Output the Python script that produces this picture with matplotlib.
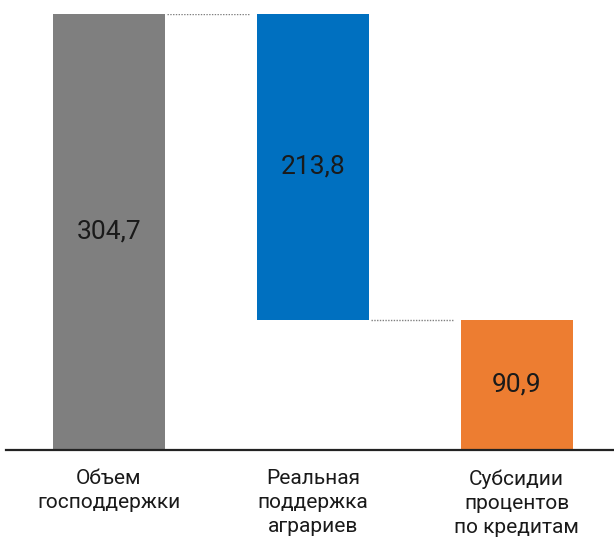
import matplotlib.pyplot as plt

# данные
categories = ['Объем\nгосподдержки', 'Реальная\nподдержка\nаграриев', 'Субсидии\nпроцентов\nпо кредитам']
values = [304.7, 213.8, 90.9]
colors = ['#7f7f7f', '#0070c0', '#ed7d31']

# основание для "водопада"
bottoms = [0, values[0] - values[1], 0]

plt.rcParams['font.family'] = ['Roboto', 'DejaVu Sans']

fig = plt.figure(figsize=(6.14, 5.37), dpi=100)
ax = fig.add_axes([6 / 614, 87 / 537, 608 / 614, 436 / 537])

x = range(len(values))
ax.bar(x, values, bottom=bottoms, width=0.55, color=colors, zorder=2)

# пунктирные соединительные линии
levels = [values[0], bottoms[1]]
for i, lvl in enumerate(levels):
    ax.plot([i + 0.285, i + 0.69], [lvl, lvl], linestyle=(0, (1, 1)), color='#808080', linewidth=1)

# подписи значений
for i, v in enumerate(values):
    ax.text(i, bottoms[i] + v / 2, f'{v:.1f}'.replace('.', ','), ha='center', va='center',
            fontsize=19, color='#1a1a1a')

ax.set_xlim(-0.505, 2.478)
ax.set_ylim(0, values[0])
ax.set_xticks(list(x))
ax.set_xticklabels(categories, fontsize=15, color='#1a1a1a', linespacing=1.33, va='top')
ax.tick_params(axis='x', length=0, pad=14)
ax.set_yticks([])

for s in ['top', 'right', 'left']:
    ax.spines[s].set_visible(False)
ax.spines['bottom'].set_linewidth(1.6)
ax.spines['bottom'].set_color('#222222')

fig.savefig('out.png', dpi=100)
